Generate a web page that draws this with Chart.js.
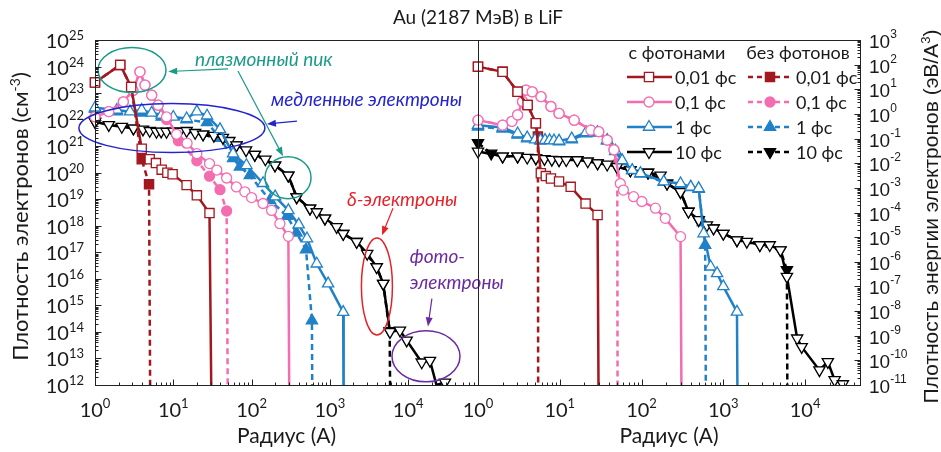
<!DOCTYPE html>
<html lang="ru">
<head>
<meta charset="utf-8">
<title>Au (2187 МэВ) в LiF</title>
<script src="https://cdn.jsdelivr.net/npm/chart.js@4.4.1/dist/chart.umd.min.js"></script>
<style>
  html, body { margin: 0; padding: 0; background: #fff; }
  #wrap { position: relative; width: 941px; height: 452px; }
  #wrap canvas { position: absolute; left: 0; top: 0; }
</style>
</head>
<body>
<div id="wrap">
  <canvas id="dens" width="941" height="452"></canvas>
  <canvas id="energy" width="941" height="452"></canvas>
</div>
<script>
// left panel: electron density (cm^-3) vs radius (A)
// with photons
const densR001 = [1, 2.1, 2.9, 3.95, 5, 6, 7.1, 8.4, 9.8, 14.8, 20, 29, 31]
const densV001 = [2.5e23, 1.15e24, 1.7e23, 8e20, 3.2e20, 2.3e20, 1.3e20, 1e20, 8.7e19, 3.4e19, 1.4e19, 3e18, 1e10]
const densR01 = [1, 1.5, 2.3, 3.05, 3.75, 4.35, 5.3, 6.4, 8.2, 11, 15, 20, 29, 36, 48, 64, 82, 100, 140, 180, 230, 295, 305]
const densV01 = [1.26e22, 2e22, 4.7e22, 1.26e23, 6.3e23, 2e23, 8.3e22, 3.5e22, 1.26e22, 2.8e21, 1.3e21, 5.2e20, 2.2e20, 1.26e20, 6.3e19, 2.9e19, 1.9e19, 1.15e19, 6.9e18, 3.8e18, 1.2e18, 4e17, 1e10]
const densR1 = [1, 1.9, 2.8, 3.95, 5.3, 7.1, 10, 14.8, 20, 27, 39.5, 58, 86, 140, 200, 295, 400, 510, 680, 950, 1480, 1500]
const densV1 = [2.8e22, 2.3e22, 2e22, 2.3e22, 1.8e22, 1.5e22, 1.26e22, 1.1e22, 2e22, 1.4e22, 4.3e21, 5.2e20, 1.9e20, 4e19, 1.26e19, 3.8e18, 1.1e18, 3.3e17, 3.7e16, 6.6e15, 5.6e14, 1e10]
const densR10 = [1, 1.5, 2.2, 3.1, 4.1, 5, 6.1, 7, 8.2, 10, 12, 14.8, 19, 24, 33, 43, 52, 64, 85, 110, 150, 199, 294, 377, 557, 680, 865, 1220, 1480, 2200, 3000, 3960, 4800, 5860, 7860, 9570, 14900, 19000, 23000, 29500]
const densV10 = [8.3e21, 6.3e21, 5.4e21, 4.7e21, 4.3e21, 3.8e21, 3.5e21, 3.6e21, 3.5e21, 3.6e21, 3.5e21, 3.8e21, 3.2e21, 2.8e21, 2.5e21, 2.1e21, 1.6e21, 1.1e21, 7.1e20, 4.8e20, 3.2e20, 1.9e20, 7.9e19, 1.2e19, 4.5e18, 3.3e18, 1.9e18, 9.1e17, 5e17, 2.5e17, 8.9e16, 2.8e16, 6.6e15, 1e14, 1.15e14, 4.8e13, 7.2e12, 8.3e12, 1e12, 1.26e12]
// without photons
const densR001n = [1, 2.1, 2.9, 3.95, 4.9, 5.1]
const densV001n = [2.5e23, 1.15e24, 1.7e23, 3.2e20, 3.7e19, 1e10]
const densR01n = [1, 1.5, 2.3, 3.05, 3.75, 4.35, 5.3, 6.4, 8.2, 11.6, 20, 29, 39.5, 48, 50]
const densV01n = [1.26e22, 2e22, 4.7e22, 1.26e23, 6.3e23, 2e23, 8.3e22, 3.5e22, 1e22, 1.6e21, 2.8e20, 7.4e19, 2.3e19, 3.6e18, 1e10]
const densR1n = [1, 1.9, 3.95, 7.1, 14.8, 27, 39.5, 58, 71, 95, 172, 285, 375, 496, 590, 600]
const densV1n = [2.5e22, 2e22, 1.8e22, 1.26e22, 1e22, 7.9e21, 2e21, 3.5e20, 1.66e20, 7.9e19, 9.1e18, 2.3e18, 5.4e17, 1.26e17, 2.7e14, 1e10]
const densR10n = [1, 3.1, 10, 24, 64, 110, 199, 294, 377, 557, 865, 1480, 2200, 3960, 4800, 5800, 5950]
const densV10n = [8.3e21, 4.7e21, 3.6e21, 2.8e21, 1.1e21, 4.8e20, 1.9e20, 7.9e19, 1.2e19, 4.5e18, 1.9e18, 5e17, 2.5e17, 2.8e16, 6.6e15, 1.1e14, 1e10]

// right panel: electron energy density (eV/A^3) vs radius (A)
const enR001 = [1, 2, 3.05, 4.04, 5.1, 5.87, 6.75, 7.8, 9.8, 13.6, 20.7, 29, 30]
const enV001 = [83, 51, 7.9, 2.3, 0.42, 3.9e-3, 3e-3, 2.4e-3, 1.8e-3, 1.1e-3, 2.3e-4, 7.9e-5, 1e-13]
const enR01 = [1, 2, 2.6, 3.05, 3.5, 3.85, 4.6, 5.9, 7.8, 9.8, 15, 24, 30, 38, 46, 55, 60, 80, 101, 148, 195, 300, 310]
const enV01 = [0.56, 0.35, 0.5, 0.91, 3.2, 9.3, 7.9, 5, 2, 1.05, 0.56, 0.22, 0.19, 0.087, 0.035, 1.5e-3, 8.1e-4, 4.4e-4, 2.8e-4, 1.5e-4, 5.8e-5, 1.05e-5, 1e-13]
const enR1 = [1, 2, 3.05, 4, 5, 5.8, 6.6, 7.5, 8.5, 9.8, 14, 21, 29, 38, 48, 58, 77, 97, 187, 300, 400, 500, 575, 700, 840, 1000, 1470, 1500]
const enV1 = [0.35, 0.28, 0.16, 0.11, 0.09, 0.087, 0.087, 0.085, 0.083, 0.081, 0.1, 0.18, 0.18, 0.087, 0.032, 0.013, 5.2e-3, 3.9e-3, 1.8e-3, 1.5e-3, 1.1e-3, 9.5e-4, 1.4e-5, 6.3e-7, 3.4e-7, 1e-7, 9.3e-9, 1e-13]
const enR10 = [1, 2, 3.05, 4, 5.1, 6.5, 8, 9.8, 12, 16.4, 22, 29, 38, 50, 73, 120, 171, 205, 300, 375, 500, 630, 760, 1000, 1470, 1940, 2800, 3700, 5000, 6000, 8000, 9100, 15000, 19000, 23000, 29000]
const enV10 = [0.03, 0.019, 0.019, 0.017, 0.016, 0.015, 0.014, 0.0135, 0.0135, 0.0135, 0.012, 0.01, 8.9e-3, 7.2e-3, 5.2e-3, 4.2e-3, 3.2e-3, 1.5e-3, 6.9e-4, 1.1e-4, 5e-5, 3.1e-5, 2.3e-5, 1.4e-5, 7.6e-6, 6.6e-6, 4.8e-6, 4.8e-6, 3e-6, 2.5e-7, 7.9e-10, 3.5e-10, 4e-11, 8.7e-11, 1.6e-11, 1.1e-11]
const enR001n = [1, 2, 3.05, 4.04, 5.1, 5.4, 5.45]
const enV001n = [83, 51, 7.9, 2.3, 0.42, 0.12, 1e-13]
const enR01n = [1, 2, 2.6, 3.05, 3.5, 3.85, 4.6, 5.9, 7.8, 9.8, 15, 24, 30, 38, 46, 50.5, 51]
const enV01n = [0.56, 0.35, 0.5, 0.91, 3.2, 9.3, 7.9, 5, 2, 1.05, 0.56, 0.22, 0.19, 0.087, 0.035, 0.01, 1e-13]
const enR1n = [1, 2, 3.05, 4, 5.8, 9.8, 14, 21, 29, 38, 48, 58, 77, 97, 187, 300, 400, 500, 560, 600, 615]
const enV1n = [0.3, 0.25, 0.14, 0.1, 0.08, 0.075, 0.09, 0.16, 0.17, 0.08, 0.03, 0.012, 5e-3, 3.7e-3, 1.7e-3, 1.4e-3, 1.05e-3, 9e-4, 4e-5, 4.8e-6, 1e-13]
const enR10n = [1, 1.45, 2, 3.05, 5.1, 9.8, 16.4, 29, 50, 73, 120, 205, 300, 375, 500, 760, 1000, 1470, 2800, 5000, 6000, 6100]
const enV10n = [0.066, 0.025, 0.019, 0.019, 0.016, 0.0135, 0.0135, 0.01, 7.2e-3, 5.2e-3, 4.2e-3, 1.5e-3, 6.9e-4, 1.1e-4, 5e-5, 2.3e-5, 1.4e-5, 7.6e-6, 4.8e-6, 3e-6, 4.7e-7, 1e-13]

// axes
const xDecades = [0, 1, 2, 3, 4]
const densDecades = [12, 13, 14, 15, 16, 17, 18, 19, 20, 21, 22, 23, 24, 25]
const enDecades = [-11, -10, -9, -8, -7, -6, -5, -4, -3, -2, -1, 0, 1, 2, 3]
const densXMax = 78000
const enXMax = 47000

const times = ['0,01 фс', '0,1 фс', '1 фс', '10 фс']

const RED = '#a3171e', PINK = '#f36db0', BLUE = '#2181c8', BLACK = '#000000'
const TEAL = '#1b9a8a', NAVY = '#2323cf', CRIMSON = '#e5222a', VIOLET = '#6b2ba0'
const looks = [
    { color: RED, shape: 'rect', r: 6.5 },
    { color: PINK, shape: 'circle', r: 5 },
    { color: BLUE, shape: 'up', r: 6.5 },
    { color: BLACK, shape: 'down', r: 6.5 }
]
const BASE = '20px Lato', SUP = '13px Lato'

function series(rs, vs, k, dashed) {
    let lk = looks[k]
    return {
        data: rs.map((r, i) => ({ x: r, y: vs[i] })),
        borderColor: lk.color,
        borderWidth: 2.5,
        borderDash: dashed ? [6, 4] : [],
        pointStyle: lk.shape === 'rect' ? 'rect' : lk.shape === 'circle' ? 'circle' : 'triangle',
        pointRotation: lk.shape === 'down' ? 180 : 0,
        pointBackgroundColor: dashed ? lk.color : '#ffffff',
        pointBorderColor: lk.color,
        pointBorderWidth: 1.3,
        pointRadius: c => (c.raw && c.raw.y <= c.chart.scales.y.min * 1.02) ? 0 : lk.r,
        tension: 0,
        clip: { left: 8, right: 8, top: 8, bottom: 0 }
    }
}

function supText(ctx, parts, x, y, align, f1, f2, rise) {
    let w = 0
    for (let [t, s] of parts) { ctx.font = s ? f2 : f1; w += ctx.measureText(t).width }
    let cx = align === 'center' ? x - w / 2 : align === 'right' ? x - w : x
    ctx.textAlign = 'left'
    ctx.textBaseline = 'alphabetic'
    for (let [t, s] of parts) {
        ctx.font = s ? f2 : f1
        ctx.fillText(t, cx, s ? y - rise : y)
        cx += ctx.measureText(t).width
    }
}

function logTicks(ctx, scale, horiz, edge, dir) {
    let lo = Math.floor(Math.log10(scale.min)), hi = Math.ceil(Math.log10(scale.max))
    for (let e = lo; e <= hi; e++) {
        for (let m = 1; m < 10; m++) {
            let v = m * Math.pow(10, e)
            if (v < scale.min * 0.999 || v > scale.max * 1.001) continue
            let p = Math.round(scale.getPixelForValue(v)) + 0.5
            let len = m === 1 ? 6 : 3
            ctx.beginPath()
            if (horiz) { ctx.moveTo(p, edge); ctx.lineTo(p, edge + dir * len) }
            else { ctx.moveTo(edge, p); ctx.lineTo(edge + dir * len, p) }
            ctx.stroke()
        }
    }
}

function marker(ctx, shape, x, y, r, fill, stroke) {
    ctx.beginPath()
    if (shape === 'rect') {
        let s = r * Math.SQRT1_2
        ctx.rect(x - s, y - s, 2 * s, 2 * s)
    } else if (shape === 'circle') {
        ctx.arc(x, y, r, 0, Math.PI * 2)
    } else {
        let d = shape === 'down' ? -1 : 1
        for (let k = 0; k < 3; k++) {
            let ang = -Math.PI / 2 + k * 2 * Math.PI / 3
            ctx.lineTo(x + r * Math.cos(ang), y + d * r * Math.sin(ang))
        }
        ctx.closePath()
    }
    ctx.fillStyle = fill
    ctx.fill()
    ctx.lineWidth = 1.3
    ctx.strokeStyle = stroke
    ctx.stroke()
}

// frame, ticks with superscript labels, axis titles
const frame = {
    id: 'frame',
    afterDraw(chart, args, o) {
        let ctx = chart.ctx, a = chart.chartArea
        let xs = chart.scales.x, ys = chart.scales.y
        ctx.save()
        ctx.strokeStyle = '#222'
        ctx.lineWidth = 1
        ctx.setLineDash([])
        ctx.strokeRect(Math.round(a.left) + 0.5, Math.round(a.top) + 0.5, Math.round(a.right - a.left), Math.round(a.bottom - a.top))
        logTicks(ctx, xs, true, Math.round(a.bottom) + 0.5, -1)
        let left = o.side === 'left'
        logTicks(ctx, ys, false, Math.round(left ? a.left : a.right) + 0.5, left ? 1 : -1)

        ctx.fillStyle = '#1a1a1a'
        for (let e of xDecades) {
            supText(ctx, [['10', 0], [String(e), 1]], xs.getPixelForValue(Math.pow(10, e)), 417, 'center', BASE, SUP, 9)
        }
        for (let e of o.decades) {
            let py = ys.getPixelForValue(Math.pow(10, e))
            if (left) supText(ctx, [['10', 0], [String(e), 1]], a.left - 11, py + 8, 'right', BASE, SUP, 8)
            else supText(ctx, [['10', 0], [String(e), 1]], a.right + 9, py + 8, 'left', '19px "Liberation Sans"', '12px "Liberation Sans"', 10)
        }
        supText(ctx, [['Радиус (А)', 0]], (a.left + a.right) / 2, 443, 'center', '21px Lato', SUP, 0)

        ctx.save()
        ctx.translate(o.yTitleX, (a.top + a.bottom) / 2 + 4)
        ctx.rotate(-Math.PI / 2)
        supText(ctx, o.yTitle, 0, o.yTitleShift, 'center', o.yFont, o.ySupFont, 8)
        ctx.restore()

        if (o.title) supText(ctx, [[o.title, 0]], a.right, 24, 'center', '19px Lato', SUP, 0)
        ctx.restore()
    }
}

// annotations of the left panel, anchored in data coordinates
const noteShapes = [
    { kind: 'ellipse', x: 2.97, y: 7.4e23, rx: 34, ry: 22.5, color: TEAL },
    { kind: 'ellipse', x: 292, y: 6.5e19, rx: 23, ry: 21, color: TEAL },
    { kind: 'ellipse', x: 9.6, y: 4.8e21, rx: 93, ry: 24.5, color: NAVY },
    { kind: 'ellipse', x: 3990, y: 5.2e15, rx: 15.5, ry: 48.5, color: CRIMSON },
    { kind: 'ellipse', x: 16900, y: 1.2e13, rx: 34, ry: 25.5, color: VIOLET },
    { kind: 'arrow', x: 50, y: 8.1e23, x2: 8.6, y2: 6.5e23, color: TEAL },
    { kind: 'arrow', x: 67, y: 6.8e23, x2: 252, y2: 4.2e20, color: TEAL },
    { kind: 'arrow', x: 380, y: 8.8e21, x2: 157, y2: 6.8e21, color: NAVY },
    { kind: 'arrow', x: 6400, y: 4.6e18, x2: 4630, y2: 4.4e17, color: CRIMSON },
    { kind: 'arrow', x: 20100, y: 1.8e15, x2: 17900, y2: 1.6e14, color: VIOLET },
    { kind: 'text', x: 18.9, y: 1.76e24, text: 'плазмонный пик', color: TEAL },
    { kind: 'text', x: 177, y: 5.5e22, text: 'медленные электроны', color: NAVY },
    { kind: 'text', x: 1650, y: 9.1e18, text: 'δ-электроны', color: CRIMSON },
    { kind: 'text', x: 10500, y: 6.5e16, text: 'фото-', color: VIOLET },
    { kind: 'text', x: 10500, y: 6.8e15, text: 'электроны', color: VIOLET }
]

const notes = {
    id: 'notes',
    afterDatasetsDraw(chart) {
        let ctx = chart.ctx, xs = chart.scales.x, ys = chart.scales.y
        ctx.save()
        for (let n of noteShapes) {
            let px = xs.getPixelForValue(n.x), py = ys.getPixelForValue(n.y)
            ctx.strokeStyle = n.color
            ctx.fillStyle = n.color
            ctx.lineWidth = 1.5
            ctx.setLineDash([])
            if (n.kind === 'ellipse') {
                ctx.beginPath()
                ctx.ellipse(px, py, n.rx, n.ry, 0, 0, Math.PI * 2)
                ctx.stroke()
            } else if (n.kind === 'arrow') {
                let qx = xs.getPixelForValue(n.x2), qy = ys.getPixelForValue(n.y2)
                let ang = Math.atan2(qy - py, qx - px)
                ctx.lineWidth = 1.2
                ctx.beginPath()
                ctx.moveTo(px, py)
                ctx.lineTo(qx - 6 * Math.cos(ang), qy - 6 * Math.sin(ang))
                ctx.stroke()
                ctx.beginPath()
                ctx.moveTo(qx, qy)
                ctx.lineTo(qx - 9 * Math.cos(ang) + 3.5 * Math.sin(ang), qy - 9 * Math.sin(ang) - 3.5 * Math.cos(ang))
                ctx.lineTo(qx - 9 * Math.cos(ang) - 3.5 * Math.sin(ang), qy - 9 * Math.sin(ang) + 3.5 * Math.cos(ang))
                ctx.closePath()
                ctx.fill()
            } else {
                ctx.font = 'italic 19px Lato'
                ctx.textAlign = 'left'
                ctx.textBaseline = 'middle'
                ctx.fillText(n.text, px, py)
            }
        }
        ctx.restore()
    }
}

// two-column legend inside the right panel
const legendBox = {
    id: 'legendBox',
    afterDraw(chart) {
        let ctx = chart.ctx, a = chart.chartArea
        let cols = [
            { x: a.left + 149, head: 'с фотонами', dashed: false },
            { x: a.left + 270, head: 'без фотонов', dashed: true }
        ]
        ctx.save()
        for (let c of cols) {
            ctx.fillStyle = '#1a1a1a'
            ctx.font = '18px Lato'
            ctx.textAlign = 'center'
            ctx.textBaseline = 'middle'
            ctx.fillText(c.head, c.x + 50, a.top + 13)
            times.forEach((t, i) => {
                let lk = looks[i], y = a.top + 37 + 25 * i
                ctx.strokeStyle = lk.color
                ctx.lineWidth = 2.5
                ctx.setLineDash(c.dashed ? [5, 4] : [])
                ctx.beginPath()
                ctx.moveTo(c.x, y)
                ctx.lineTo(c.x + 45, y)
                ctx.stroke()
                ctx.setLineDash([])
                marker(ctx, lk.shape, c.x + 22, y, lk.r, c.dashed ? lk.color : '#ffffff', lk.color)
                ctx.fillStyle = '#1a1a1a'
                ctx.font = '18px Lato'
                ctx.textAlign = 'left'
                ctx.fillText(t, c.x + 48, y + 1)
            })
        }
        ctx.restore()
    }
}

function axisX(max) {
    return {
        type: 'logarithmic', min: 1, max: max,
        ticks: { display: false }, grid: { display: false }, border: { display: false },
        afterFit: s => { s.height = 67 }
    }
}
function axisY(min, max, side, width) {
    return {
        type: 'logarithmic', position: side, min: min, max: max,
        ticks: { display: false }, grid: { display: false }, border: { display: false },
        afterFit: s => { s.width = width }
    }
}

new Chart(document.getElementById('dens'), {
    type: 'line',
    data: {
        datasets: [
            series(densR001, densV001, 0, false),
            series(densR01, densV01, 1, false),
            series(densR1, densV1, 2, false),
            series(densR10, densV10, 3, false),
            series(densR001n, densV001n, 0, true),
            series(densR01n, densV01n, 1, true),
            series(densR1n, densV1n, 2, true),
            series(densR10n, densV10n, 3, true)
        ]
    },
    options: {
        responsive: false, animation: false, events: [], devicePixelRatio: 1,
        layout: { padding: { left: 0, right: 463, top: 40, bottom: 0 } },
        scales: { x: axisX(densXMax), y: axisY(1e12, 1e25, 'left', 95) },
        plugins: {
            legend: { display: false }, tooltip: { enabled: false },
            frame: {
                side: 'left', decades: densDecades, title: 'Au (2187 МэВ) в LiF',
                yTitleX: 20, yTitleShift: 8, yFont: '22px Lato', ySupFont: '14px Lato',
                yTitle: [['Плотность электронов (см', 0], ['-3', 1], [')', 0]]
            }
        }
    },
    plugins: [notes, frame]
})

new Chart(document.getElementById('energy'), {
    type: 'line',
    data: {
        datasets: [
            series(enR001, enV001, 0, false),
            series(enR01, enV01, 1, false),
            series(enR1, enV1, 2, false),
            series(enR10, enV10, 3, false),
            series(enR001n, enV001n, 0, true),
            series(enR01n, enV01n, 1, true),
            series(enR1n, enV1n, 2, true),
            series(enR10n, enV10n, 3, true)
        ]
    },
    options: {
        responsive: false, animation: false, events: [], devicePixelRatio: 1,
        layout: { padding: { left: 478, right: 0, top: 40, bottom: 0 } },
        scales: { x: axisX(enXMax), y: axisY(1e-11, 1e3, 'right', 81) },
        plugins: {
            legend: { display: false }, tooltip: { enabled: false },
            frame: {
                side: 'right', decades: enDecades,
                yTitleX: 931, yTitleShift: 7, yFont: '21px "Liberation Sans"', ySupFont: '13px "Liberation Sans"',
                yTitle: [['Плотность энергии электронов (эВ/A', 0], ['3', 1], [')', 0]]
            }
        }
    },
    plugins: [frame, legendBox]
})
</script>
</body>
</html>
